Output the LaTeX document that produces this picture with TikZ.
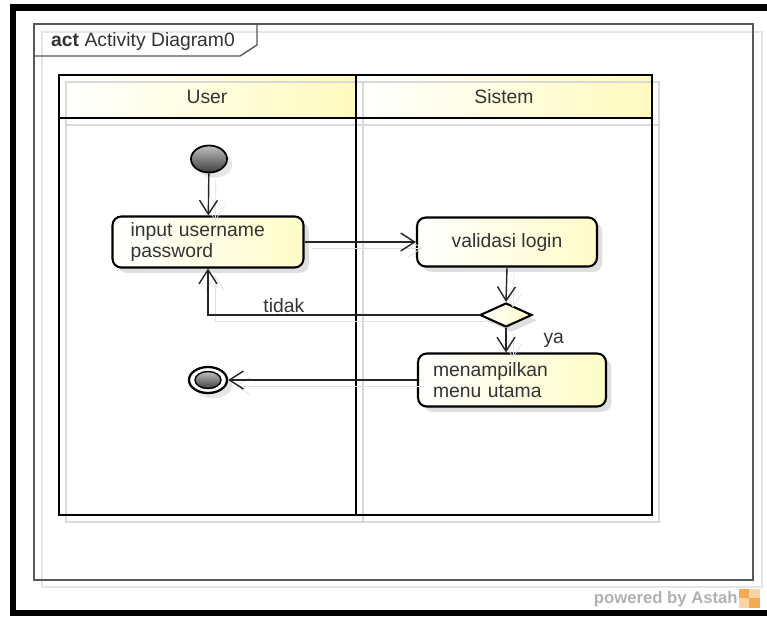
\documentclass[tikz,border=0pt]{standalone}
\usepackage{fontspec}
\setmainfont{Liberation Sans}
\usetikzlibrary{arrows.meta,shapes.geometric,shadows}
\definecolor{hdryellow}{RGB}{255,251,190}
\definecolor{actyellow}{RGB}{255,252,200}
\definecolor{astahorange}{RGB}{244,170,80}
\tikzset{
  flow/.style={draw=black!85, line width=0.8pt, -{Straight Barb[length=2.8mm,width=3.6mm]},
    preaction={draw=black!12, transform canvas={xshift=4pt,yshift=-3.5pt}}},
  action/.style={draw, line width=1.2pt, rounded corners=5pt, left color=white, right color=actyellow,
    drop shadow={shadow xshift=3pt, shadow yshift=-3pt, opacity=0.25},
    font=\fontsize{11}{11.5}\selectfont, text=black!80},
  lane/.style={line width=1.4pt, black},
  laneshadow/.style={line width=1.2pt, black!15},
  txt/.style={font=\fontsize{11}{12}\selectfont, text=black!80}
}
\begin{document}
\begin{tikzpicture}[x=0.02cm, y=-0.02cm]
        \useasboundingbox (0,0) rectangle (767,616);
        \fill[white] (0,0) rectangle (767,616);
        \fill[black] (10,4) rectangle (767,11);
        \fill[black] (10,4) rectangle (16,616);
        \fill[black] (10,610) rectangle (767,616);

        % frame
        \draw[black!10, line width=0.8pt] (42,32) rectangle (762,587);
        \draw[black!65, line width=0.8pt] (34,24) rectangle (753,580);
        \draw[black!65, line width=0.8pt] (34,56) -- (240,56) -- (257,45) -- (257,24);
        \node[txt, anchor=west] (title) at (45,41) {\textbf{act} Activity Diagram0};

        % swimlanes
        \shade[left color=white, right color=hdryellow] (59,75) rectangle (356,118);
        \shade[left color=white, right color=hdryellow] (356,75) rectangle (652,118);
        \draw[laneshadow] (66,82) rectangle (659,522);
        \draw[laneshadow] (66,125) -- (659,125);
        \draw[laneshadow] (363,82) -- (363,522);
        \draw[lane] (59,75) rectangle (652,515);
        \draw[lane] (59,118) -- (652,118);
        \draw[lane] (356,75) -- (356,515);
        \node[txt] (user) at (207,97) {User};
        \node[txt] (sistem) at (504,97) {Sistem};

        % nodes
        \node[ellipse, draw, line width=1pt, minimum width=0.72cm, minimum height=0.54cm,
              top color=black!25, bottom color=black!75,
              drop shadow={shadow xshift=3pt, shadow yshift=-3pt, opacity=0.2}] (init) at (209,159) {};
        \node[action, minimum width=3.82cm, minimum height=1.02cm, inner xsep=0.36cm,
              text width=3.1cm, align=left] (input) at (208,242) {input username\\password};
        \node[action, minimum width=3.6cm, minimum height=0.98cm] (valid) at (507,242) {validasi login};
        \node[diamond, draw, line width=1.2pt, minimum width=1.04cm, minimum height=0.48cm, inner sep=0pt,
              aspect=2.2, left color=white, right color=actyellow,
              drop shadow={shadow xshift=3pt, shadow yshift=-3pt, opacity=0.25}] (dec) at (506,315) {};
        \node[action, minimum width=3.76cm, minimum height=1.06cm, inner xsep=0.3cm,
              text width=3.16cm, align=left] (menu) at (512,380) {menampilkan\\menu utama};
        \node[ellipse, draw, line width=1.3pt, fill=white, minimum width=0.76cm, minimum height=0.52cm,
              drop shadow={shadow xshift=3pt, shadow yshift=-3pt, opacity=0.2}] (final) at (208,380) {};
        \draw[line width=0.8pt, top color=black!25, bottom color=black!75] (final.center) ellipse [x radius=13, y radius=8.5];

        % flows
        \draw[flow] (init) -- (input);
        \draw[flow] (input.east) -- (valid.west);
        \draw[flow] (valid.south) -- (dec.north);
        \draw[flow] (dec.south) -- node[txt, right=0.62cm] (ya) {ya} (dec.south |- menu.north);
        \draw[flow] (dec.west) -| node[txt, above, pos=0.36, inner sep=1pt] (tidak) {tidak} (input.south);
        \draw[flow] (menu.west) -- (final.east);

        % footer
        \node[anchor=east, font=\fontsize{9.5}{10}\selectfont\bfseries, text=black!30, inner sep=0pt] (powered) at (738,599) {powered by Astah};
        \fill[astahorange] (739,589) rectangle (760,608);
        \fill[white, opacity=0.5] (749,589) rectangle (760,598);
        \fill[white, opacity=0.5] (739,598) rectangle (749,608);
    \end{tikzpicture}
\end{document}
